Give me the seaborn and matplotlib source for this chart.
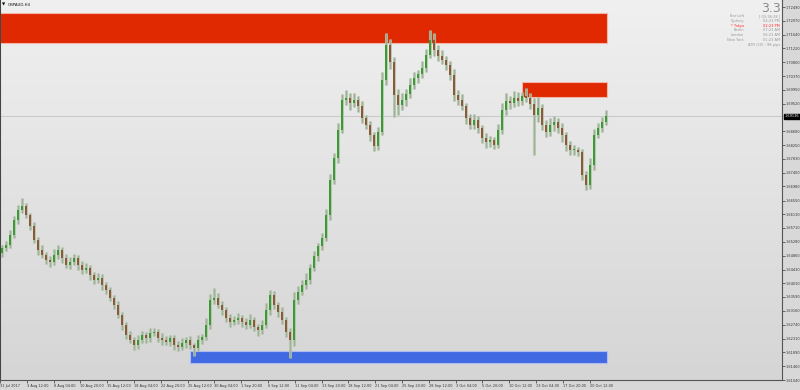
import numpy as np
import pandas as pd
import matplotlib
matplotlib.use("Agg")
import matplotlib.pyplot as plt
import matplotlib.transforms as mtransforms
from matplotlib.colors import LinearSegmentedColormap
from matplotlib.patches import Rectangle
import seaborn as sns

# ---------------- data (GBPAUD H4, aggregated candles) ----------------
closes = [
    1.6509, 1.6518, 1.6549, 1.6595, 1.6626, 1.6638, 1.6610, 1.6577, 1.6534, 1.6503,
    1.6488, 1.6472, 1.6466, 1.6488, 1.6503, 1.6478, 1.6457, 1.6466, 1.6478, 1.6457,
    1.6442, 1.6448, 1.6426, 1.6411, 1.6417, 1.6396, 1.6380, 1.6356, 1.6334, 1.6303,
    1.6273, 1.6242, 1.6227, 1.6211, 1.6227, 1.6242, 1.6233, 1.6248, 1.6251, 1.6233,
    1.6227, 1.6221, 1.6233, 1.6211, 1.6205, 1.6217, 1.6227, 1.6211, 1.6202, 1.6227,
    1.6236, 1.6273, 1.6350, 1.6356, 1.6334, 1.6319, 1.6294, 1.6282, 1.6288, 1.6294,
    1.6282, 1.6273, 1.6288, 1.6267, 1.6257, 1.6273, 1.6319, 1.6365, 1.6334, 1.6313,
    1.6288, 1.6251, 1.6227, 1.6350, 1.6374, 1.6396, 1.6411, 1.6448, 1.6485, 1.6515,
    1.6540, 1.6610, 1.6718, 1.6785, 1.6871, 1.6964, 1.6970, 1.6954, 1.6964, 1.6945,
    1.6908, 1.6887, 1.6856, 1.6822, 1.6865, 1.7025, 1.7132, 1.7080, 1.6979, 1.6948,
    1.6964, 1.6982, 1.7010, 1.7031, 1.7043, 1.7062, 1.7102, 1.7148, 1.7117, 1.7099,
    1.7086, 1.7071, 1.7040, 1.6979, 1.6964, 1.6945, 1.6908, 1.6887, 1.6902, 1.6878,
    1.6847, 1.6835, 1.6841, 1.6825, 1.6871, 1.6933, 1.6960, 1.6954, 1.6970, 1.6960,
    1.6976, 1.6970, 1.6951, 1.6917, 1.6939, 1.6887, 1.6865, 1.6887, 1.6896, 1.6878,
    1.6856, 1.6825, 1.6810, 1.6810, 1.6804, 1.6733, 1.6703, 1.6764, 1.6856, 1.6878,
    1.6896, 1.69136,
]
first_open = 1.6495
upper_wick_pips = [
    10, 12, 15, 12, 14, 25, 10, 8, 12, 10,
    14, 10, 12, 18, 15, 10, 12, 16, 14, 10,
    12, 15, 10, 8, 14, 12, 10, 8, 10, 12,
    10, 8, 12, 10, 15, 12, 10, 16, 12, 10,
    14, 12, 10, 8, 12, 15, 10, 12, 8, 14,
    10, 20, 18, 30, 15, 12, 10, 14, 12, 16,
    10, 12, 18, 8, 10, 14, 20, 15, 12, 10,
    14, 10, 12, 25, 18, 14, 20, 12, 15, 10,
    14, 20, 18, 15, 22, 18, 25, 15, 20, 12,
    14, 10, 12, 10, 15, 25, 37, 20, 15, 18,
    22, 15, 20, 18, 12, 20, 18, 30, 22, 15,
    18, 14, 12, 20, 15, 18, 10, 14, 20, 12,
    10, 14, 12, 10, 18, 20, 25, 15, 20, 18,
    12, 25, 15, 20, 34, 12, 15, 20, 18, 12,
    14, 10, 12, 15, 10, 8, 12, 20, 18, 15,
    14, 20,
]
lower_wick_pips = [
    12, 10, 8, 10, 12, 10, 8, 12, 10, 14,
    10, 12, 15, 10, 12, 14, 10, 12, 10, 15,
    12, 10, 14, 12, 10, 15, 12, 10, 12, 10,
    14, 12, 10, 16, 12, 10, 14, 12, 10, 12,
    15, 10, 12, 14, 12, 10, 15, 12, 25, 10,
    12, 10, 12, 14, 10, 15, 12, 14, 10, 12,
    15, 12, 10, 14, 18, 12, 10, 14, 12, 15,
    12, 14, 56, 20, 12, 10, 14, 12, 10, 15,
    12, 10, 15, 12, 14, 10, 15, 22, 12, 18,
    15, 12, 18, 14, 12, 10, 15, 20, 68, 30,
    15, 18, 12, 14, 15, 12, 14, 10, 18, 15,
    12, 15, 14, 20, 15, 12, 18, 14, 12, 16,
    14, 18, 15, 12, 10, 12, 14, 18, 12, 15,
    12, 14, 15, 122, 20, 15, 14, 12, 18, 15,
    20, 18, 14, 15, 12, 15, 16, 12, 14, 10,
    12, 10,
]
current_price = 1.69136

# zones: (start candle, end candle, top price, bottom price)
supply_zones = [(-0.5, 151.25, 1.72306, 1.71385), (130.0, 151.25, 1.70188, 1.69727)]
demand_zones = [(47.0, 151.25, 1.61929, 1.61561)]

x_labels = ["31 Jul 2017", "3 Aug 12:00", "8 Aug 04:00", "10 Aug 20:00", "15 Aug 12:00",
            "18 Aug 04:00", "22 Aug 20:00", "25 Aug 12:00", "30 Aug 04:00", "1 Sep 20:00",
            "6 Sep 12:00", "11 Sep 04:00", "13 Sep 20:00", "18 Sep 12:00", "21 Sep 04:00",
            "25 Sep 20:00", "28 Sep 12:00", "3 Oct 04:00", "5 Oct 20:00", "10 Oct 12:00",
            "13 Oct 04:00", "17 Oct 20:00", "20 Oct 12:00"]
candles_per_label = 6.7
y_ticks = [1.72490, 1.72070, 1.71640, 1.71220, 1.70800, 1.70370, 1.69950, 1.69520,
           1.68680, 1.68250, 1.67830, 1.67400, 1.66980, 1.66550, 1.66130, 1.65710,
           1.65280, 1.64860, 1.64430, 1.64010, 1.63590, 1.63160, 1.62740, 1.62310,
           1.61890, 1.61460, 1.61040]
y_range = (1.61040, 1.72705)

info_labels = ["Bar Left", "Sydney", "* Tokyo", "Berlin", "London", "New York"]
info_values = ["[ 03:36:28 ]", "04:23 PM", "02:23 PM", "07:23 AM", "06:23 AM", "01:23 AM"]
atr_text = "ATR (20) : 98 pips"
spread_text = "3.3"

# ---------------- build table ----------------
df = pd.DataFrame({"close": closes, "up": upper_wick_pips, "dn": lower_wick_pips})
df["idx"] = np.arange(len(df))
df["open"] = df["close"].shift(1).fillna(first_open)
df["high"] = df[["open", "close"]].max(axis=1) + df["up"] * 0.0001
df["low"] = df[["open", "close"]].min(axis=1) - df["dn"] * 0.0001
df["bull"] = df["close"] >= df["open"]

# ---------------- style ----------------
sns.set_theme(style="white")
plt.rcParams["font.family"] = ["DejaVu Sans"]

fig = plt.figure(figsize=(8, 3.9), dpi=100)
fig.patch.set_facecolor("#d8d8d8")
ax = fig.add_axes([0.0, 10 / 390, 782 / 800, 380 / 390])

xlim = (-0.5, 195.0)
ax.set_xlim(*xlim)
ax.set_ylim(*y_range)

# background gradient
bg = LinearSegmentedColormap.from_list("bg", ["#f0f0f0", "#d5d5d5"])
ax.imshow(np.linspace(0, 1, 256).reshape(-1, 1), cmap=bg, aspect="auto",
          extent=[xlim[0], xlim[1], y_range[0], y_range[1]], origin="upper", zorder=0)

# zones
for (x0, x1, top, bot) in supply_zones:
    ax.add_patch(Rectangle((x0, bot), x1 - x0, top - bot, facecolor="#e02900",
                           edgecolor="#f3b6a6", lw=0.8, zorder=1))
for (x0, x1, top, bot) in demand_zones:
    ax.add_patch(Rectangle((x0, bot), x1 - x0, top - bot, facecolor="#4169e1",
                           edgecolor="#aebcef", lw=0.8, zorder=1))

# current price line
ax.axhline(current_price, color="#c4c4c4", lw=0.6, zorder=1.5)

# candles
ax.vlines(df["idx"], df["low"], df["high"], color="#b2c2ab", lw=2.2, alpha=0.85, zorder=2)
ax.vlines(df["idx"], df["low"], df["high"], color="#98ab92", lw=0.6, alpha=0.9, zorder=2.1)
body_bottom = df[["open", "close"]].min(axis=1)
body_h = (df["close"] - df["open"]).abs().clip(lower=0.0002)
colors = np.where(df["bull"], "#3a9a34", "#8a5a38")
ax.bar(df["idx"], body_h, bottom=body_bottom, width=0.38, color=colors, lw=0, zorder=3)

# axes / ticks
ax.yaxis.tick_right()
ax.set_yticks(y_ticks)
ax.set_yticklabels([f"{v:.5f}" for v in y_ticks])
ax.tick_params(axis="y", labelsize=2.5, length=2, width=0.5, colors="#333333", pad=0.8,
               direction="out", right=True, left=False)
tick_pos = [-0.5 + candles_per_label * k for k in range(len(x_labels))]
ax.set_xticks(tick_pos)
ax.set_xticklabels(x_labels)
ax.tick_params(axis="x", labelsize=2.5, length=2, width=0.5, colors="#333333", pad=1,
               direction="out", bottom=True)
for lbl in ax.get_xticklabels():
    lbl.set_horizontalalignment("left")
ax.grid(False)

ax.spines["top"].set_visible(False)
ax.spines["left"].set_color("#444444")
ax.spines["left"].set_linewidth(1.5)
ax.spines["right"].set_color("#555555")
ax.spines["right"].set_linewidth(0.8)
ax.spines["bottom"].set_color("#555555")
ax.spines["bottom"].set_linewidth(0.8)

# current price label
trans = mtransforms.blended_transform_factory(ax.transAxes, ax.transData)
ax.text(1.003, current_price, f"{current_price:.5f}", transform=trans, ha="left",
        va="center", fontsize=2.5, color="white", zorder=10, clip_on=False,
        bbox=dict(boxstyle="square,pad=0.2", fc="black", ec="black"))

# title
fig.text(2 / 800, 1 - 4.5 / 390, "\u25bc", fontsize=3, color="black", va="center", ha="left")
fig.text(8 / 800, 1 - 4.5 / 390, "GBPAUD,H4", fontsize=2.8, color="#111111",
         va="center", ha="left")

# info panel
fig.text(781 / 800, 1 - 9 / 390, spread_text, fontsize=9, color="#8a8a8a",
         ha="right", va="center")
row_y = [16.0, 20.8, 25.6, 30.4, 35.2, 40.0]
for lab, val, yy in zip(info_labels, info_values, row_y):
    col = "#ff2a2a" if "Tokyo" in lab else "#9a9a9a"
    fig.text(744 / 800, 1 - yy / 390, lab, fontsize=2.6, color=col, ha="right", va="center")
    fig.text(780 / 800, 1 - yy / 390, val, fontsize=2.6, color=col, ha="right", va="center")
fig.text(780 / 800, 1 - 44.8 / 390, atr_text, fontsize=2.6, color="#9a9a9a",
         ha="right", va="center")

fig.savefig("out.png", dpi=100, facecolor=fig.get_facecolor())
